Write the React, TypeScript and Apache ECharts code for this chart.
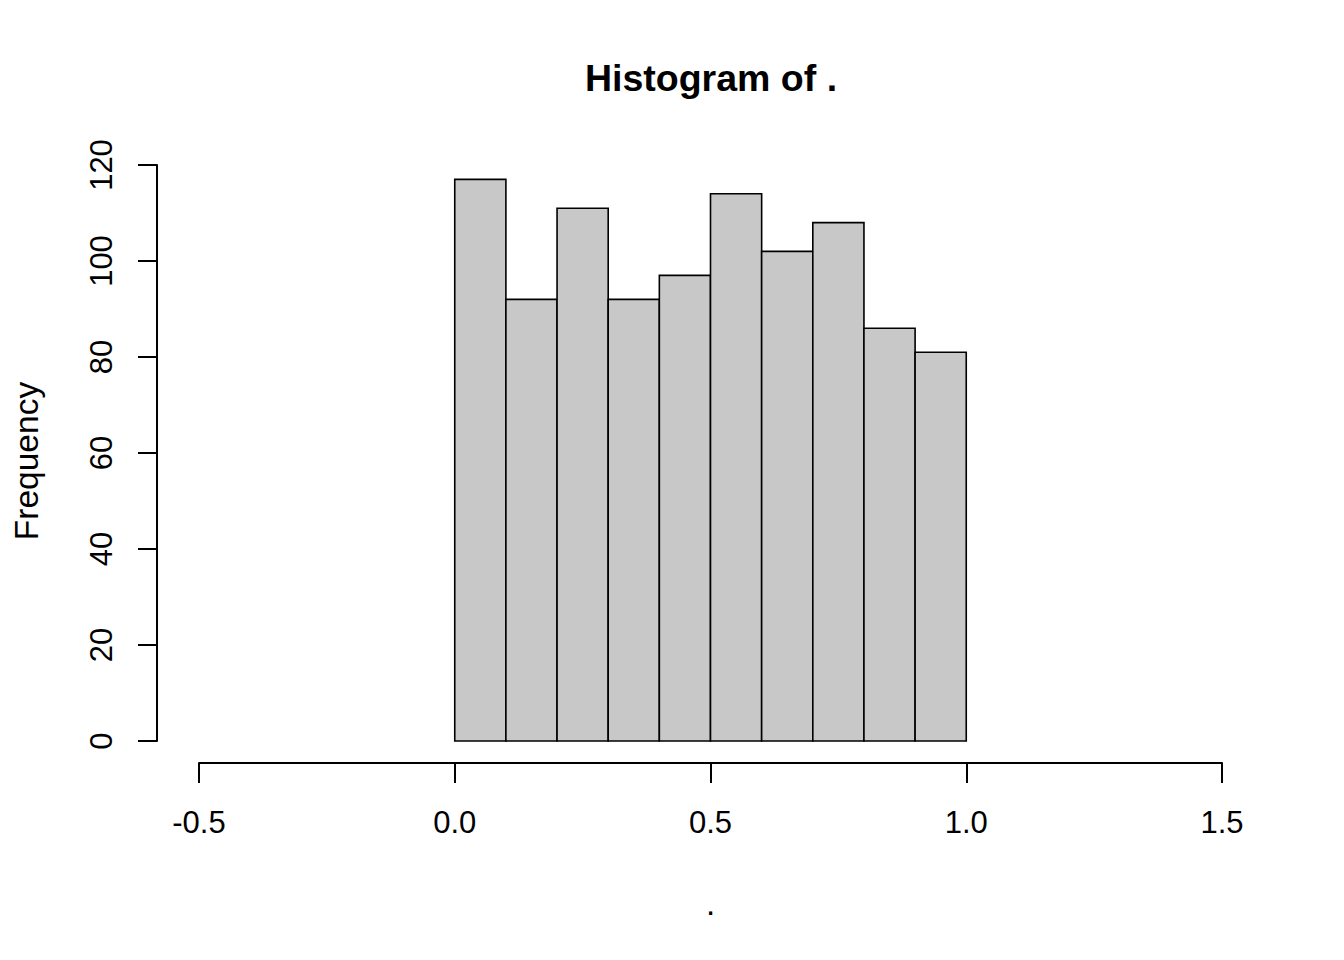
import React, { useEffect, useRef } from "react";
import * as echarts from "echarts";

// Histogram bins (left and right breaks) and counts
const binStarts = [0.0, 0.1, 0.2, 0.3, 0.4, 0.5, 0.6, 0.7, 0.8, 0.9];
const binEnds = [0.1, 0.2, 0.3, 0.4, 0.5, 0.6, 0.7, 0.8, 0.9, 1.0];
const counts = [117, 92, 111, 92, 97, 114, 102, 108, 86, 81];

// Axis ranges / ticks
const xMin = -0.5;
const xMax = 1.5;
const xInterval = 0.5;
const yMin = 0;
const yMax = 120;
const yInterval = 20;

const titleText = "Histogram of .";
const xLabel = ".";
const yLabel = "Frequency";

const FONT = "'Liberation Sans', Arial, Helvetica, sans-serif";

export default function App() {
  const ref = useRef<HTMLDivElement>(null);

  useEffect(() => {
    if (!ref.current) return;
    const chart = echarts.init(ref.current, undefined, { renderer: "svg" });
    const data = binStarts.map((s, i) => [s, binEnds[i], counts[i]]);

    chart.setOption({
      animation: false,
      backgroundColor: "#ffffff",
      title: {
        text: titleText,
        left: 711,
        top: 59,
        textAlign: "center",
        padding: 0,
        textStyle: {
          fontFamily: FONT,
          fontSize: 37.5,
          fontWeight: "bold",
          color: "#000",
        },
      },
      graphic: [
        {
          type: "text",
          x: 26,
          y: 461,
          rotation: Math.PI / 2,
          style: {
            text: yLabel,
            fontFamily: FONT,
            fontSize: 33.5,
            fill: "#000",
            textAlign: "center",
            textVerticalAlign: "middle",
          },
        },
      ],
      grid: {
        left: 199,
        top: 165,
        width: 1023,
        height: 576,
        containLabel: false,
        outerBoundsMode: "none",
      },
      xAxis: {
        type: "value",
        min: xMin,
        max: xMax,
        interval: xInterval,
        position: "bottom",
        offset: 22,
        name: xLabel,
        nameLocation: "middle",
        nameGap: 124,
        nameTextStyle: { fontFamily: FONT, fontSize: 33, color: "#000" },
        axisLine: { show: true, onZero: false, lineStyle: { color: "#000", width: 2 } },
        axisTick: { show: true, inside: false, length: 20, lineStyle: { color: "#000", width: 2 } },
        axisLabel: {
          show: true,
          margin: 44,
          fontFamily: FONT,
          fontSize: 31,
          color: "#000",
          formatter: (v: number) => v.toFixed(1),
        },
        splitLine: { show: false },
      },
      yAxis: {
        type: "value",
        min: yMin,
        max: yMax,
        interval: yInterval,
        position: "left",
        offset: 42,
        axisLine: { show: true, onZero: false, lineStyle: { color: "#000", width: 2 } },
        axisTick: { show: true, inside: false, length: 19, lineStyle: { color: "#000", width: 2 } },
        axisLabel: {
          show: true,
          rotate: 90,
          margin: 40,
          fontFamily: FONT,
          fontSize: 31,
          color: "#000",
        },
        splitLine: { show: false },
      },
      series: [
        {
          type: "custom",
          clip: false,
          encode: { x: [0, 1], y: 2 },
          data,
          renderItem: (params: any, api: any) => {
            const x0 = api.value(0);
            const x1 = api.value(1);
            const h = api.value(2);
            const p0 = api.coord([x0, h]);
            const p1 = api.coord([x1, 0]);
            return {
              type: "rect",
              shape: {
                x: p0[0],
                y: p0[1],
                width: p1[0] - p0[0],
                height: p1[1] - p0[1],
              },
              style: { fill: "#C8C8C8", stroke: "#000", lineWidth: 1.6 },
            };
          },
        },
      ],
    });

    return () => {
      chart.dispose();
    };
  }, []);

  return (
    <div
      ref={ref}
      style={{ position: "absolute", left: 0, top: 0, width: 1344, height: 960, background: "#fff" }}
    />
  );
}
